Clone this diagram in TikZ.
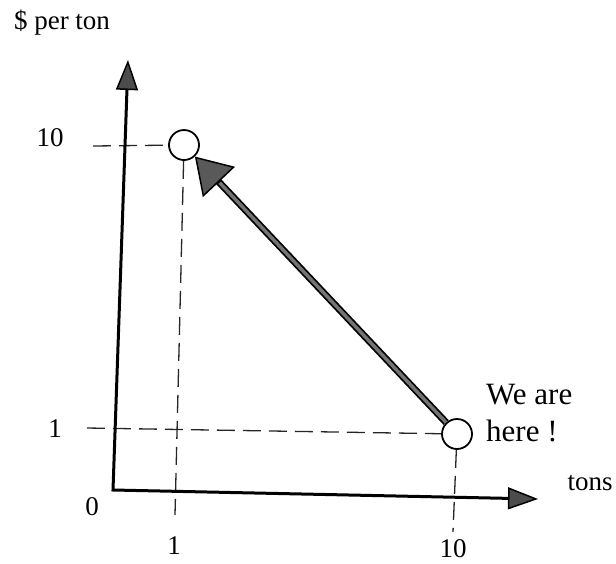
\documentclass[tikz,border=0pt]{standalone}
\usepackage{fontspec}
\setmainfont{Liberation Serif}
\usetikzlibrary{arrows.meta}

\begin{document}
\begin{tikzpicture}[x=1pt, y=-1pt, font=\fontsize{27}{33}\selectfont,
  axis/.style={line width=3pt, line join=miter,
    {Triangle[length=30pt, width=22pt, line width=1.5pt, fill=black!70]}-{Triangle[length=30pt, width=22pt, line width=1.5pt, fill=black!70]}},
  guide/.style={black!85, line width=1.3pt, dash pattern=on 18pt off 8pt},
  spot/.style={circle, draw, line width=1.8pt, minimum size=30pt, inner sep=0pt, fill=white},
  shaft/.style={line width=7pt, -{Triangle[length=35pt, width=44pt, line width=1.5pt, fill=black!65]}},
  core/.style={line width=3.5pt, black!55, shorten >=36pt},
  lbl/.style={inner sep=0pt}]
  \useasboundingbox (0,0) rectangle (616,563);
  \node[spot] (high) at (184,145) {};
  \node[spot] (here) at (457,434) {};
  \coordinate (origin) at (113,490);
  \coordinate (ytip) at (128,60);
  \coordinate (xtip) at (538,499);
  \coordinate (h1) at (93,146);
  \coordinate (v1) at (175,515);
  \coordinate (h2) at (87,428);
  \coordinate (v2) at (453,532);
  \draw[guide] (h1) -- (high);
  \draw[guide] (high) -- (v1);
  \draw[guide] (h2) -- (here);
  \draw[guide] (here) -- (v2);
  \draw[axis] (ytip) -- (origin) -- (xtip);
  \draw[shaft] (here) -- (high);
  \draw[core] (here) -- (high);
  \node[lbl] (unit) at (62,23) {\$ per ton};
  \node[lbl] (ten y) at (50,138) {10};
  \node[lbl] (one y) at (55,429) {1};
  \node[lbl] (zero) at (92,507) {0};
  \node[lbl] (one x) at (174,546) {1};
  \node[lbl] (ten x) at (453,549) {10};
  \node[lbl] (tons) at (590,483) {tons};
  \node[lbl, anchor=west, align=left, font=\fontsize{31}{37}\selectfont] (note) at (486,413) {We are\\here !};
\end{tikzpicture}
\end{document}
